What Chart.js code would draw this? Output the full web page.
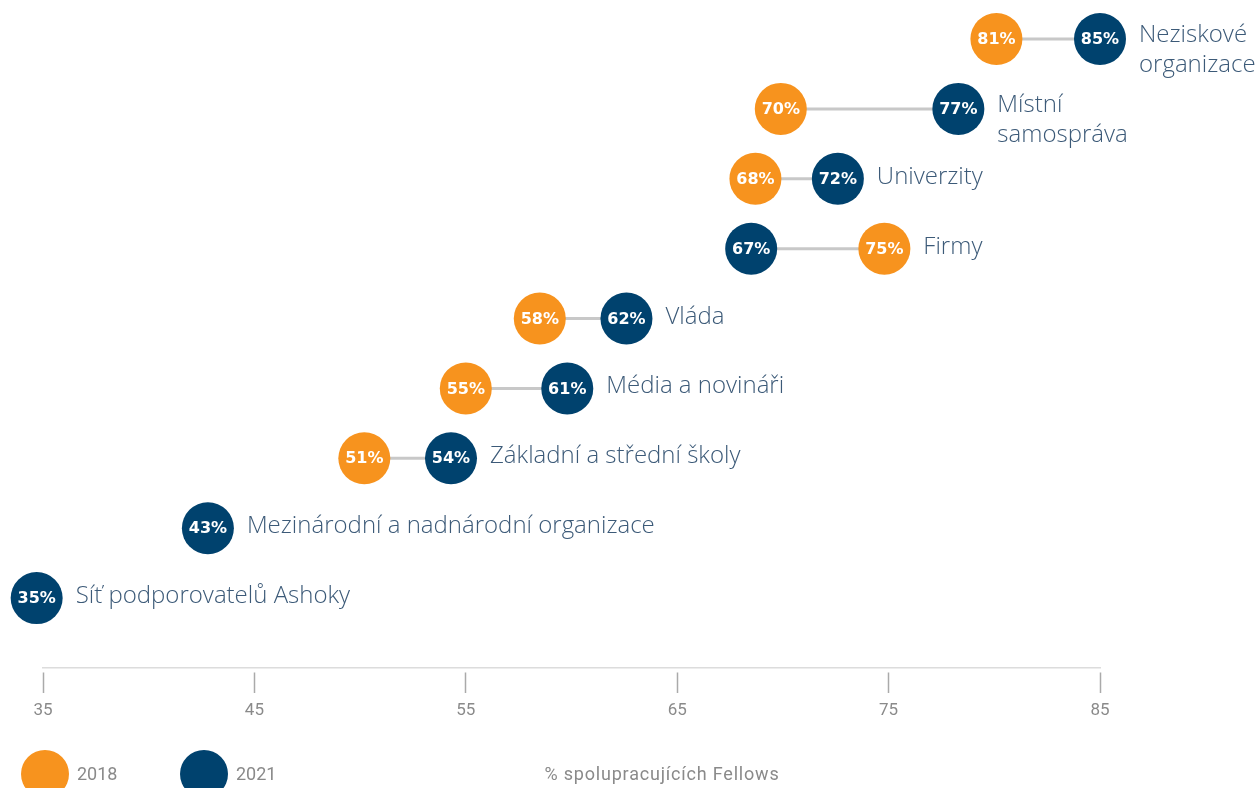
<!DOCTYPE html>
<html lang="cs">
<head>
<meta charset="utf-8">
<title>Spolupráce Fellows</title>
<script src="https://cdn.jsdelivr.net/npm/chart.js@4/dist/chart.umd.min.js"></script>
<style>
  html, body { margin: 0; padding: 0; background: #fff; }
  #wrap { width: 1257px; height: 788px; }
</style>
</head>
<body>
<div id="wrap"><canvas id="chart"></canvas></div>
<script>
// data
const categories = [
    ['Neziskové', 'organizace'],
    ['Místní', 'samospráva'],
    'Univerzity',
    'Firmy',
    'Vláda',
    'Média a novináři',
    'Základní a střední školy',
    'Mezinárodní a nadnárodní organizace',
    'Síť podporovatelů Ashoky'
];
const values2018 = [80.1, 69.9, 68.7, 74.8, 58.5, 55.0, 50.2, null, null];
const values2021 = [85.0, 78.3, 72.6, 68.5, 62.6, 59.8, 54.3, 42.8, 34.7];
const labels2018 = ['81%', '70%', '68%', '75%', '58%', '55%', '51%', null, null];
const labels2021 = ['85%', '77%', '72%', '67%', '62%', '61%', '54%', '43%', '35%'];
const xTicks = [35, 45, 55, 65, 75, 85];
const seriesNames = ['2018', '2021'];
const axisTitle = '% spolupracujících Fellows';

const ORANGE = '#f7931e';
const NAVY = '#00426e';
const TEXT = '#3c5a78';
const GREY = '#8a8a8a';

function toPoints(values) {
    const pts = [];
    values.forEach((v, i) => { if (v != null) pts.push({ x: v, y: i }); });
    return pts;
}

const dumbbellPlugin = {
    id: 'dumbbell',
    beforeDatasetsDraw(chart) {
        const { ctx, scales: { x, y } } = chart;
        ctx.save();
        ctx.strokeStyle = '#c8c8c8';
        ctx.lineWidth = 3;
        categories.forEach((c, i) => {
            if (values2018[i] == null || values2021[i] == null) return;
            const py = y.getPixelForValue(i);
            ctx.beginPath();
            ctx.moveTo(x.getPixelForValue(values2018[i]), py);
            ctx.lineTo(x.getPixelForValue(values2021[i]), py);
            ctx.stroke();
        });
        ctx.restore();
    },
    afterDatasetsDraw(chart) {
        const { ctx, scales: { x, y } } = chart;
        ctx.save();
        // percent labels inside the dots
        ctx.fillStyle = '#fff';
        ctx.font = 'bold 16px "DejaVu Sans"';
        ctx.textAlign = 'center';
        ctx.textBaseline = 'middle';
        [labels2018, labels2021].forEach((labels, d) => {
            chart.getDatasetMeta(d).data.forEach((pt, j) => {
                const row = chart.data.datasets[d].data[j].y;
                ctx.fillText(labels[row], pt.x, pt.y + 1);
            });
        });
        // category labels right of the rightmost dot
        ctx.fillStyle = TEXT;
        ctx.font = '300 24px "Open Sans"';
        ctx.textAlign = 'left';
        ctx.textBaseline = 'alphabetic';
        categories.forEach((c, i) => {
            const vals = [values2018[i], values2021[i]].filter(v => v != null);
            const px = x.getPixelForValue(Math.max(...vals)) + 39;
            const py = y.getPixelForValue(i);
            if (Array.isArray(c)) {
                ctx.fillText(c[0], px, py + 3);
                ctx.fillText(c[1], px, py + 33);
            } else {
                ctx.fillText(c, px, py + 5);
            }
        });
        ctx.restore();
    },
    afterDraw(chart) {
        const { ctx } = chart;
        ctx.save();
        // legend
        const colors = [ORANGE, NAVY];
        const lx = [45, 204];
        ctx.font = '18px Roboto';
        ctx.textBaseline = 'middle';
        ctx.textAlign = 'left';
        seriesNames.forEach((name, k) => {
            ctx.fillStyle = colors[k];
            ctx.beginPath();
            ctx.arc(lx[k], 774, 24, 0, Math.PI * 2);
            ctx.fill();
            ctx.fillStyle = GREY;
            ctx.fillText(name, lx[k] + 32, 775);
        });
        // axis title
        ctx.textAlign = 'center';
        ctx.letterSpacing = '0.8px';
        ctx.fillText(axisTitle, 662, 775);
        ctx.restore();
    }
};

const ctx = document.getElementById('chart').getContext('2d');
new Chart(ctx, {
    type: 'scatter',
    data: {
        datasets: [{
            label: seriesNames[0],
            data: toPoints(values2018),
            backgroundColor: ORANGE,
            borderWidth: 0,
            pointRadius: 26,
            pointHoverRadius: 26,
            clip: false
        }, {
            label: seriesNames[1],
            data: toPoints(values2021),
            backgroundColor: NAVY,
            borderWidth: 0,
            pointRadius: 26,
            pointHoverRadius: 26,
            clip: false
        }]
    },
    options: {
        responsive: true,
        maintainAspectRatio: false,
        animation: false,
        layout: { padding: { top: 39, left: 43, right: 157, bottom: 0 } },
        plugins: {
            legend: { display: false },
            tooltip: { enabled: false }
        },
        scales: {
            x: {
                type: 'linear',
                min: 35,
                max: 85,
                afterBuildTicks: s => { s.ticks = xTicks.map(v => ({ value: v })); },
                afterFit: s => { s.height = 120; },
                border: { display: true, color: '#dcdcdc', width: 1.5 },
                grid: {
                    drawOnChartArea: false,
                    drawTicks: true,
                    tickLength: 25,
                    tickColor: '#aaaaaa',
                    tickWidth: 1.5,
                    tickBorderDash: [0, 4, 21, 100]
                },
                ticks: {
                    color: GREY,
                    font: { family: 'Roboto', size: 17 },
                    padding: 8,
                    maxRotation: 0
                }
            },
            y: {
                type: 'linear',
                min: 0,
                max: 9,
                reverse: true,
                display: false
            }
        }
    },
    plugins: [dumbbellPlugin]
});
</script>
</body>
</html>
